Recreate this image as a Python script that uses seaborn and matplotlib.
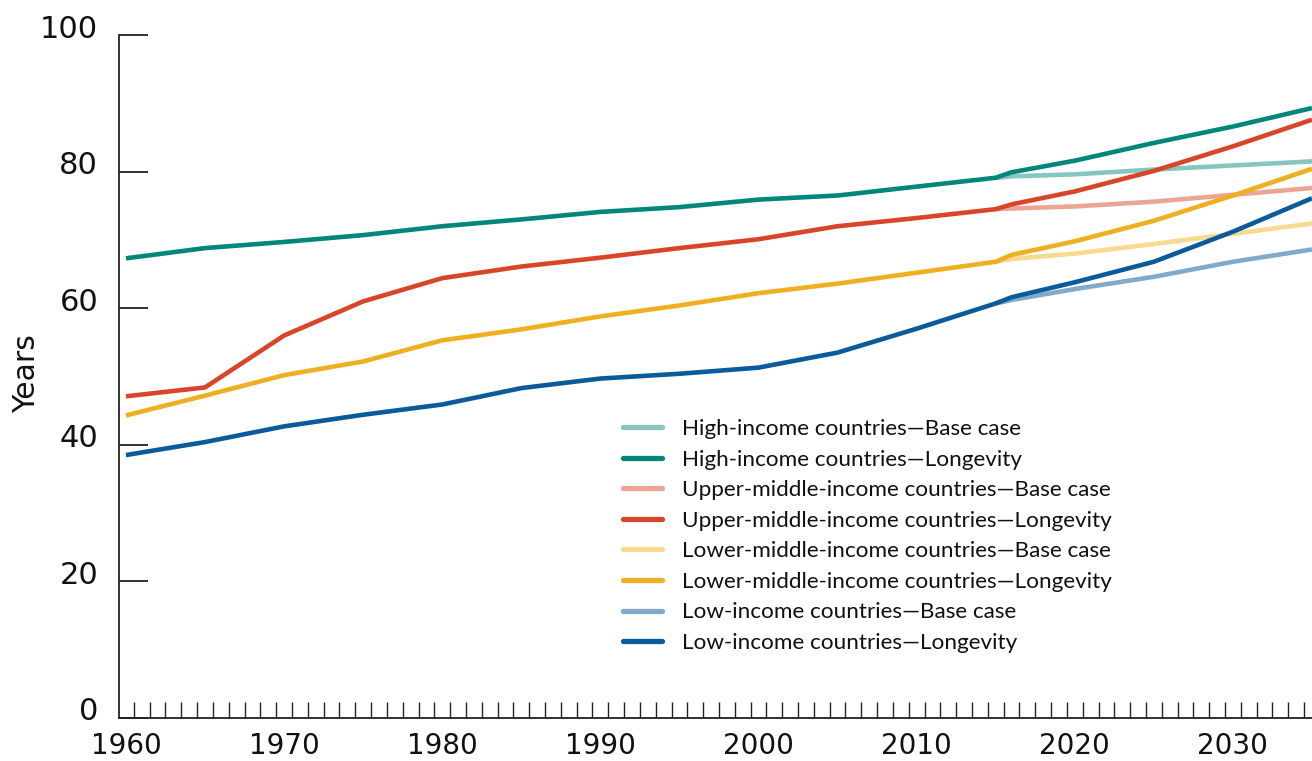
import numpy as np
import pandas as pd
import matplotlib
matplotlib.use("Agg")
import matplotlib.pyplot as plt
from matplotlib.transforms import ScaledTranslation
from matplotlib.ticker import FixedLocator
from matplotlib.lines import Line2D
import seaborn as sns

# ---- data ----
hist_years = [1960, 1965, 1970, 1975, 1980, 1985, 1990, 1995, 2000, 2005, 2010, 2015]
proj_years = [2015, 2016, 2020, 2025, 2030, 2035]

high_hist = [67.3, 68.8, 69.7, 70.7, 72.0, 73.0, 74.1, 74.8, 75.9, 76.5, 77.8, 79.1]
upper_hist = [47.1, 48.4, 56.0, 61.0, 64.4, 66.1, 67.4, 68.8, 70.1, 72.0, 73.2, 74.5]
lower_hist = [44.3, 47.2, 50.2, 52.2, 55.3, 56.9, 58.8, 60.4, 62.2, 63.6, 65.2, 66.8]
low_hist = [38.5, 40.4, 42.7, 44.4, 45.9, 48.3, 49.7, 50.4, 51.3, 53.5, 57.0, 60.7]

high_base = [79.1, 79.3, 79.6, 80.3, 80.9, 81.5]
high_long = [79.1, 79.9, 81.6, 84.2, 86.6, 89.3]
upper_base = [74.5, 74.6, 74.9, 75.6, 76.6, 77.6]
upper_long = [74.5, 75.2, 77.1, 80.1, 83.7, 87.6]
lower_base = [66.8, 67.2, 68.0, 69.4, 70.9, 72.4]
lower_long = [66.8, 67.8, 69.8, 72.8, 76.5, 80.4]
low_base = [60.7, 61.2, 62.8, 64.6, 66.8, 68.6]
low_long = [60.7, 61.6, 63.8, 66.8, 71.2, 76.1]

labels = [
    "High-income countries\u2014Base case",
    "High-income countries\u2014Longevity",
    "Upper-middle-income countries\u2014Base case",
    "Upper-middle-income countries\u2014Longevity",
    "Lower-middle-income countries\u2014Base case",
    "Lower-middle-income countries\u2014Longevity",
    "Low-income countries\u2014Base case",
    "Low-income countries\u2014Longevity",
]
colors = ["#86C6BF", "#00877A", "#ECA595", "#D8452B",
          "#F7D98F", "#EEB020", "#80A9CC", "#0B5A9C"]

x_tick_labels = ["1960", "1970", "1980", "1990", "2000", "2010", "2020", "2030"]
y_ticks = [0, 20, 40, 60, 80, 100]

# ---- build long table ----
rows = []
series = [
    (labels[0], proj_years, high_base),
    (labels[2], proj_years, upper_base),
    (labels[4], proj_years, lower_base),
    (labels[6], proj_years, low_base),
    (labels[1], hist_years + proj_years[1:], high_hist + high_long[1:]),
    (labels[3], hist_years + proj_years[1:], upper_hist + upper_long[1:]),
    (labels[5], hist_years + proj_years[1:], lower_hist + lower_long[1:]),
    (labels[7], hist_years + proj_years[1:], low_hist + low_long[1:]),
]
for name, xs, ys in series:
    for xv, yv in zip(xs, ys):
        rows.append({"year": xv, "value": yv, "series": name})
df = pd.DataFrame(rows)
palette = dict(zip(labels, colors))

sns.set_theme(style="white")
plt.rcParams["font.family"] = ["DejaVu Sans"]

W, H, DPI = 1312, 761, 100
fig = plt.figure(figsize=(W / DPI, H / DPI), dpi=DPI)
ax = fig.add_axes([119 / W, (H - 718) / H, (1312 - 119) / W, (718 - 35) / H])

draw_order = [labels[0], labels[2], labels[4], labels[6],
              labels[1], labels[3], labels[5], labels[7]]
for name in draw_order:
    sub = df[df["series"] == name]
    sns.lineplot(data=sub, x="year", y="value", color=palette[name],
                 linewidth=3.3, ax=ax, legend=False, sort=False,
                 solid_joinstyle="round", solid_capstyle="butt")

ax.set_xlim(1959.56, 2035)
ax.set_ylim(0, 100)

for s in ["top", "right"]:
    ax.spines[s].set_visible(False)
for s in ["left", "bottom"]:
    ax.spines[s].set_color("#222222")
    ax.spines[s].set_linewidth(1.3)

# x ticks
ax.set_xticks([int(t) for t in x_tick_labels])
ax.set_xticklabels(x_tick_labels)
ax.xaxis.set_minor_locator(FixedLocator(np.arange(1960.5, 2035, 1.0)))
ax.tick_params(axis="x", which="major", length=0, pad=10, labelsize=20,
               labelcolor="#111111")
ax.tick_params(axis="x", which="minor", direction="in", length=11.5,
               width=1.0, color="#222222", bottom=True)

# y ticks
ax.set_yticks(y_ticks)
ax.set_yticklabels([str(v) for v in y_ticks])
ax.tick_params(axis="y", which="major", direction="in", length=21, width=1.3,
               color="#222222", pad=15, labelsize=22, labelcolor="#111111",
               left=True)
offset = ScaledTranslation(0, 9 / DPI, fig.dpi_scale_trans)
for lab in ax.get_yticklabels():
    lab.set_transform(lab.get_transform() + offset)

ax.set_xlabel("")
ax.set_ylabel("Years", fontsize=21.5, color="#111111")
ax.yaxis.set_label_coords(-0.0655, 0.505)

# legend
handles = [Line2D([0], [0], color=c, linewidth=3.8) for c in colors]
leg = ax.legend(handles, labels, loc="upper left",
                bbox_to_anchor=(623 / W, 1 - 419 / H),
                bbox_transform=fig.transFigure, frameon=False,
                prop={"family": ["Lato", "DejaVu Sans"], "size": 16.2},
                handlelength=1.75, handletextpad=0.88,
                labelspacing=0.47, borderpad=0, borderaxespad=0)
for t in leg.get_texts():
    t.set_color("#111111")

fig.savefig("out.png", dpi=DPI)
